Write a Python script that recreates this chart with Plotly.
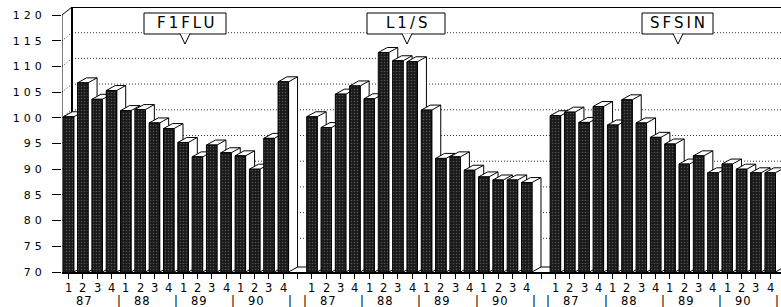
import plotly.graph_objects as go

# ---------------- data ----------------
series_names = ["F1FLU", "L1/S", "SFSIN"]
quarters = ["1", "2", "3", "4"]
years = ["87", "88", "89", "90"]
f1flu = [100.2, 106.8, 103.6, 105.3, 101.4, 101.6, 99.0, 97.9,
         95.2, 92.4, 94.7, 93.2, 92.6, 90.0, 96.0, 107.0]
l1s = [100.2, 98.1, 104.6, 106.2, 103.7, 112.7, 111.1, 110.9,
       101.5, 92.1, 92.4, 89.8, 88.5, 87.9, 87.9, 87.4]
sfsin = [100.4, 101.1, 99.1, 102.2, 98.6, 103.5, 99.0, 96.2,
         94.9, 91.0, 92.6, 89.3, 91.0, 90.0, 89.3, 89.3]
y_ticks = [70, 75, 80, 85, 90, 95, 100, 105, 110, 115, 120]
series_values = [f1flu, l1s, sfsin]

# ---------------- geometry (pixels) ----------------
W, H = 781, 307
ML, MR, MT, MB = 62, 0, 7, 35
SLOT0_PX = 68.5
SLOT_PX = 14.32
PX_PER_UNIT = 5.14
Y_MIN = 70
x_lo = -(SLOT0_PX - ML) / SLOT_PX
x_hi = x_lo + (W - ML - MR) / SLOT_PX
y_hi = Y_MIN + (H - MT - MB) / PX_PER_UNIT

HW = 5.25 / SLOT_PX          # half front width (slots)
DX = 9.0 / SLOT_PX           # bar depth x
DY = 5.0 / PX_PER_UNIT       # bar depth y
WDX = 10.0 / SLOT_PX         # wall depth x
WDY = 8.0 / PX_PER_UNIT      # wall depth y
GROUP = 17


def px2px(X):
    return (X - ML) / (W - ML - MR)


def py2py(Y):
    return (H - MB - Y) / (H - MT - MB)


font = "DejaVu Sans"

# slot positions
xs, ys = [], []
for g, vals in enumerate(series_values):
    for i, v in enumerate(vals):
        xs.append(g * GROUP + i)
        ys.append(v)

shapes = []
# back wall gridlines (dotted) and their diagonals from the axis
for t in y_ticks[1:-1]:
    shapes.append(dict(type="line", xref="x", yref="y", layer="below",
                       x0=x_lo, y0=t, x1=x_lo + WDX, y1=t + WDY,
                       line=dict(color="#333", width=1, dash="1px,2px")))
    shapes.append(dict(type="line", xref="x", yref="y", layer="below",
                       x0=x_lo + WDX, y0=t + WDY, x1=x_hi, y1=t + WDY,
                       line=dict(color="#333", width=1, dash="1px,2px")))
# top edge of back wall + diagonal + back wall left edge
shapes.append(dict(type="line", xref="x", yref="y", layer="below",
                   x0=x_lo + WDX, y0=120 + WDY, x1=x_hi, y1=120 + WDY,
                   line=dict(color="black", width=2)))
shapes.append(dict(type="line", xref="x", yref="y", layer="below",
                   x0=x_lo, y0=120, x1=x_lo + WDX, y1=120 + WDY,
                   line=dict(color="black", width=1)))
shapes.append(dict(type="line", xref="x", yref="y", layer="below",
                   x0=x_lo + WDX, y0=Y_MIN + WDY, x1=x_lo + WDX, y1=120 + WDY,
                   line=dict(color="black", width=2)))
# floor back line
shapes.append(dict(type="line", xref="x", yref="y", layer="below",
                   x0=x_lo + WDX, y0=Y_MIN + DY, x1=x_hi, y1=Y_MIN + DY,
                   line=dict(color="black", width=1)))
# left axis line
shapes.append(dict(type="line", xref="x", yref="y", layer="above",
                   x0=x_lo, y0=Y_MIN, x1=x_lo, y1=120,
                   line=dict(color="black", width=1)))

# side + top faces of each bar (3D), left to right
for s, v in zip(xs, ys):
    xl, xr = s - HW, s + HW
    path = (f"M {xl},{v} L {xl + DX},{v + DY} L {xr + DX},{v + DY} "
            f"L {xr + DX},{Y_MIN + DY} L {xr},{Y_MIN} L {xr},{v} Z "
            f"M {xr},{v} L {xr + DX},{v + DY}")
    shapes.append(dict(type="path", xref="x", yref="y", layer="below",
                       path=path, fillcolor="white",
                       line=dict(color="black", width=1)))

# callout boxes for the series names
callouts = [(144, 226, 185), (367, 445, 407), (642, 713, 678)]
annotations = []
for name, (bx0, bx1, pxc) in zip(series_names, callouts):
    shapes.append(dict(type="rect", xref="paper", yref="paper",
                       x0=px2px(bx0), x1=px2px(bx1), y0=py2py(34), y1=py2py(13),
                       fillcolor="white", line=dict(color="black", width=1)))
    shapes.append(dict(type="path", xref="paper", yref="paper",
                       path=(f"M {px2px(pxc - 5)},{py2py(33.6)} "
                             f"L {px2px(pxc)},{py2py(44)} "
                             f"L {px2px(pxc + 5)},{py2py(33.6)}"),
                       fillcolor="white", line=dict(color="black", width=1)))
    annotations.append(dict(xref="paper", yref="paper",
                            x=px2px((bx0 + bx1) / 2 + 1.5), y=py2py(23.5),
                            text=f'<span style="letter-spacing:3px">{name}</span>',
                            showarrow=False, xanchor="center", yanchor="middle",
                            font=dict(family=font, size=15, color="black")))

# x labels: quarter digits (row 1), year separators and years (row 2)
row1_y = py2py(287.5)
row2_y = py2py(300.5)
lab_font = dict(family=font, size=11.5, color="black")
for g in range(3):
    base = g * GROUP
    for yi, yr in enumerate(years):
        for qi, q in enumerate(quarters):
            annotations.append(dict(xref="x", yref="paper", x=base + 4 * yi + qi,
                                    y=row1_y, text=q, showarrow=False,
                                    xanchor="center", yanchor="middle",
                                    font=lab_font))
        annotations.append(dict(xref="x", yref="paper", x=base + 4 * yi - 0.5,
                                y=row2_y, text="|", showarrow=False,
                                xanchor="center", yanchor="middle",
                                font=lab_font))
        annotations.append(dict(xref="x", yref="paper", x=base + 4 * yi + 1.15,
                                y=row2_y,
                                text=f'<span style="letter-spacing:1px">{yr}</span>',
                                showarrow=False,
                                xanchor="center", yanchor="middle",
                                font=lab_font))
    annotations.append(dict(xref="x", yref="paper", x=base + 15.5,
                            y=row2_y, text="|", showarrow=False,
                            xanchor="center", yanchor="middle",
                            font=lab_font))

# x ticks at every slot
n_slots = 3 * GROUP - 1
tickvals = list(range(n_slots))

fig = go.Figure()
fig.add_trace(go.Bar(
    x=xs, y=ys, width=2 * HW,
    marker=dict(color="#1a1a1a",
                line=dict(color="black", width=1),
                pattern=dict(shape=".", fgcolor="#8a8a8a", bgcolor="#1a1a1a",
                             size=3, solidity=0.2)),
    hoverinfo="y", showlegend=False))

fig.update_layout(
    width=W, height=H,
    margin=dict(l=ML, r=MR, t=MT, b=MB, pad=0),
    paper_bgcolor="white", plot_bgcolor="white",
    showlegend=False,
    shapes=shapes, annotations=annotations,
    xaxis=dict(range=[x_lo, x_hi], tickmode="array", tickvals=tickvals,
               ticktext=[""] * len(tickvals), ticks="outside", ticklen=5,
               tickcolor="black", tickwidth=1, showline=True,
               linecolor="black", linewidth=1.5,
               showgrid=False, zeroline=False),
    yaxis=dict(range=[Y_MIN, y_hi], tickmode="array", tickvals=y_ticks,
               ticktext=[f'<span style="letter-spacing:4px">{t}</span>' for t in y_ticks],
               ticks="outside", ticklen=9, tickcolor="black", tickwidth=1,
               showline=False, showgrid=False, zeroline=False,
               ticklabelstandoff=4,
               tickfont=dict(family=font, size=11, color="black")),
)

fig.write_html("out.html",
               config={"displayModeBar": False},
               post_script="document.body.style.margin='0px';"
                           "document.body.style.overflow='hidden';")
